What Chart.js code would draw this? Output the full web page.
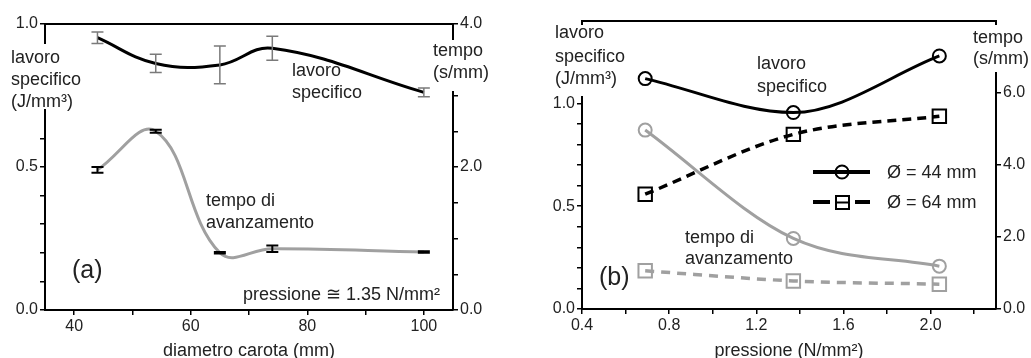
<!DOCTYPE html>
<html><head><meta charset="utf-8">
<script src="https://cdn.jsdelivr.net/npm/chart.js@4.4.1/dist/chart.umd.min.js"></script>
<style>
html,body{margin:0;padding:0;background:#fff;width:1031px;height:358px;overflow:hidden}
#ca{position:absolute;left:0;top:0;width:515px;height:358px}
#cb{position:absolute;left:515px;top:0;width:516px;height:358px}
</style></head><body>
<canvas id="ca" width="515" height="358"></canvas>
<canvas id="cb" width="516" height="358"></canvas>
<script>
// ---------- panel (a) data ----------
const diamA = [44, 54, 65, 74, 100];
const lavoroA = [0.952, 0.862, 0.857, 0.915, 0.761];
const lavoroErrA = [0.02, 0.032, 0.066, 0.042, 0.015];
const tempoA = [1.96, 2.50, 0.80, 0.857, 0.81];
const tempoErrA = [0.04, 0.02, 0.01, 0.045, 0.01];
const xTicksA = [40, 50, 60, 70, 80, 90, 100];
const xLabelsA = [40, 60, 80, 100];
const yTicksA = [0, 0.1, 0.2, 0.3, 0.4, 0.5, 0.6, 1.0];
const yLabelsA = [0, 0.5, 1.0];
const y1TicksA = [0, 0.5, 1, 1.5, 2, 2.5, 3, 4];
const y1LabelsA = [0, 2, 4];

// ---------- panel (b) data ----------
const pressB = [0.69, 1.37, 2.04];
const lavoro44 = [1.12, 0.955, 1.23];
const lavoro64 = [0.558, 0.849, 0.937];
const tempo44 = [4.97, 1.96, 1.19];
const tempo64 = [1.06, 0.78, 0.69];
const xTicksB = [0.4, 0.6, 0.8, 1.0, 1.2, 1.4, 1.6, 1.8, 2.0, 2.2];
const xLabelsB = [0.4, 0.8, 1.2, 1.6, 2.0];
const yTicksB = [0, 0.1, 0.2, 0.3, 0.4, 0.5, 0.6, 0.7, 0.8, 0.9, 1.0];
const yLabelsB = [0, 0.5, 1.0];
const y1TicksB = [0, 2, 4, 6];
const y1LabelsB = [0, 2, 4, 6];
const legendLabelsB = ['Ø = 44 mm', 'Ø = 64 mm'];

const FONT = "'Liberation Sans', Arial, sans-serif";
Chart.defaults.font.family = FONT;
Chart.defaults.color = '#222';

const has = (arr, v) => arr.some(l => Math.abs(l - v) < 1e-6);
const pts = (xs, ys) => xs.map((x, i) => ({x, y: ys[i]}));

function axis(pos, min, max, ticks, labels, size, fmt, extra) {
  const horiz = pos === 'top' || pos === 'bottom';
  return Object.assign({
    type: 'linear', position: pos, min, max,
    afterBuildTicks: s => { s.ticks = ticks.map(v => ({value: v})); },
    afterFit: s => { if (horiz) s.height = size; else s.width = size; },
    ticks: { autoSkip: false, maxRotation: 0, padding: 2, font: {size: 16}, color: '#222',
             callback: v => has(labels, v) ? fmt(v) : '' },
    grid: { drawOnChartArea: false, tickLength: 5, color: '#000', lineWidth: 1.5 },
    border: { display: true, color: '#000', width: 2 }
  }, extra || {});
}
function topAxis(min, max, h) {
  return { type: 'linear', position: 'top', min, max,
    afterFit: s => { s.height = h; },
    ticks: { display: false }, grid: { display: false },
    border: { display: true, color: '#000', width: 2 } };
}
const f1 = v => Number(v).toFixed(1);
const f0 = v => String(v);

const errorBars = { id: 'errorBars', afterDatasetsDraw(chart) {
  const ctx = chart.ctx;
  chart.data.datasets.forEach(ds => {
    if (!ds.errors) return;
    const xs = chart.scales.x, ys = chart.scales[ds.yAxisID];
    ctx.save(); ctx.strokeStyle = ds.errColor; ctx.lineWidth = ds.errWidth;
    ds.data.forEach((p, j) => {
      const e = ds.errors[j];
      const px = xs.getPixelForValue(p.x);
      const ya = ys.getPixelForValue(p.y - e), yb = ys.getPixelForValue(p.y + e);
      ctx.beginPath();
      ctx.moveTo(px, ya); ctx.lineTo(px, yb);
      ctx.moveTo(px - 6, ya); ctx.lineTo(px + 6, ya);
      ctx.moveTo(px - 6, yb); ctx.lineTo(px + 6, yb);
      ctx.stroke();
    });
    ctx.restore();
  });
}};

function overlay(spec) { return { id: 'overlay', afterDraw(chart) {
  const ctx = chart.ctx; ctx.save();
  ctx.fillStyle = '#fff';
  spec.masks.forEach(m => ctx.fillRect(m[0], m[1], m[2], m[3]));
  ctx.fillStyle = '#222'; ctx.textBaseline = 'alphabetic'; ctx.textAlign = 'left';
  spec.texts.forEach(t => { ctx.font = (t.size || 18) + 'px ' + FONT; ctx.fillText(t.text, t.x, t.y); });
  if (spec.legend) spec.legend(ctx, chart);
  ctx.restore();
}}; }

const baseOpts = { responsive: false, animation: false, devicePixelRatio: 1,
  layout: { padding: 0 }, plugins: { legend: { display: false }, tooltip: { enabled: false } } };

// ---------- chart (a) ----------
new Chart(document.getElementById('ca'), {
  type: 'line',
  data: { datasets: [
    { label: 'lavoro specifico', data: pts(diamA, lavoroA), yAxisID: 'y', borderColor: '#000', borderWidth: 3,
      pointRadius: 0, tension: 0.4, fill: false, errors: lavoroErrA, errColor: '#7a7a7a', errWidth: 1.5 },
    { label: 'tempo di avanzamento', data: pts(diamA, tempoA), yAxisID: 'y1', borderColor: '#a0a0a0', borderWidth: 3,
      pointRadius: 0, tension: 0.4, fill: false, errors: tempoErrA, errColor: '#000', errWidth: 2 }
  ]},
  options: Object.assign({}, baseOpts, { scales: {
    x: axis('bottom', 35, 105, xTicksA, xLabelsA, 48, f0, { title: { display: true, text: 'diametro carota (mm)',
         font: { size: 18, lineHeight: 1 }, padding: { top: 0, bottom: -2 }, color: '#222' } }),
    xt: topAxis(35, 105, 24),
    y: axis('left', 0, 1, yTicksA, yLabelsA, 45, f1),
    y1: axis('right', 0, 4, y1TicksA, y1LabelsA, 62, f1)
  }}),
  plugins: [errorBars, overlay({
    masks: [[37, 44, 14, 65], [446, 40, 14, 51]],
    texts: [
      {text: 'lavoro', x: 11, y: 63}, {text: 'specifico', x: 11, y: 85}, {text: '(J/mm³)', x: 11, y: 107},
      {text: 'tempo', x: 433, y: 56}, {text: '(s/mm)', x: 433, y: 78},
      {text: 'lavoro', x: 292, y: 76}, {text: 'specifico', x: 292, y: 98},
      {text: 'tempo di', x: 206, y: 206}, {text: 'avanzamento', x: 206, y: 228},
      {text: '(a)', x: 72, y: 278, size: 25},
      {text: 'pressione ≅ 1.35 N/mm²', x: 243, y: 300}
    ]
  })]
});

// ---------- chart (b) ----------
const OX = 515;
new Chart(document.getElementById('cb'), {
  type: 'line',
  data: { datasets: [
    { label: 'lavoro specifico Ø = 44 mm', data: pts(pressB, lavoro44), yAxisID: 'y', borderColor: '#000', borderWidth: 3,
      pointStyle: 'circle', pointRadius: 6.5, pointBorderWidth: 2, pointBorderColor: '#000', pointBackgroundColor: 'rgba(0,0,0,0)', cubicInterpolationMode: 'monotone' },
    { label: 'lavoro specifico Ø = 64 mm', data: pts(pressB, lavoro64), yAxisID: 'y', borderColor: '#000', borderWidth: 3.5, borderDash: [9, 6],
      pointStyle: 'rect', pointRadius: 9.5, pointBorderWidth: 2, pointBorderColor: '#000', pointBackgroundColor: 'rgba(0,0,0,0)', cubicInterpolationMode: 'monotone' },
    { label: 'tempo Ø = 44 mm', data: pts(pressB, tempo44), yAxisID: 'y1', borderColor: '#a0a0a0', borderWidth: 3,
      pointStyle: 'circle', pointRadius: 6.5, pointBorderWidth: 2, pointBorderColor: '#a0a0a0', pointBackgroundColor: 'rgba(0,0,0,0)', cubicInterpolationMode: 'monotone' },
    { label: 'tempo Ø = 64 mm', data: pts(pressB, tempo64), yAxisID: 'y1', borderColor: '#a0a0a0', borderWidth: 3.5, borderDash: [9, 7],
      pointStyle: 'rect', pointRadius: 9.5, pointBorderWidth: 2, pointBorderColor: '#a0a0a0', pointBackgroundColor: 'rgba(0,0,0,0)', cubicInterpolationMode: 'monotone' }
  ]},
  options: Object.assign({}, baseOpts, { scales: {
    x: axis('bottom', 0.4, 2.3, xTicksB, xLabelsB, 49, f1, { title: { display: true, text: 'pressione (N/mm²)',
         font: { size: 18, lineHeight: 1 }, padding: { top: 0, bottom: -2 }, color: '#222' } }),
    xt: topAxis(0.4, 2.3, 21),
    y: axis('left', 0, 1.4, yTicksB, yLabelsB, 67, f1),
    y1: axis('right', 0, 8, y1TicksB, y1LabelsB, 35, f1)
  }}),
  plugins: [overlay({
    masks: [[576 - OX, 25, 12, 71], [990 - OX, 25, 12, 47]],
    texts: [
      {text: 'lavoro', x: 555 - OX, y: 38}, {text: 'specifico', x: 555 - OX, y: 62}, {text: '(J/mm³)', x: 555 - OX, y: 84},
      {text: 'tempo', x: 973 - OX, y: 43}, {text: '(s/mm)', x: 973 - OX, y: 64},
      {text: 'lavoro', x: 757 - OX, y: 69}, {text: 'specifico', x: 757 - OX, y: 92},
      {text: 'tempo di', x: 685 - OX, y: 243}, {text: 'avanzamento', x: 685 - OX, y: 264},
      {text: '(b)', x: 599 - OX, y: 285, size: 25},
      {text: legendLabelsB[0], x: 887 - OX, y: 178}, {text: legendLabelsB[1], x: 887 - OX, y: 208}
    ],
    legend: (ctx, chart) => {
      const d0 = chart.data.datasets[0], d1 = chart.data.datasets[1];
      ctx.lineCap = 'butt';
      ctx.strokeStyle = d0.borderColor; ctx.lineWidth = 4;
      ctx.beginPath(); ctx.moveTo(813 - OX, 172); ctx.lineTo(870 - OX, 172); ctx.stroke();
      ctx.lineWidth = 2; ctx.beginPath(); ctx.arc(842 - OX, 172, 6.5, 0, Math.PI * 2); ctx.stroke();
      ctx.strokeStyle = d1.borderColor; ctx.lineWidth = 4;
      ctx.beginPath(); ctx.moveTo(813 - OX, 202); ctx.lineTo(830 - OX, 202);
      ctx.moveTo(855 - OX, 202); ctx.lineTo(870 - OX, 202); ctx.stroke();
      ctx.lineWidth = 2; ctx.strokeRect(836 - OX, 196, 13, 13);
      ctx.beginPath(); ctx.moveTo(836 - OX, 202.5); ctx.lineTo(849 - OX, 202.5); ctx.stroke();
    }
  })]
});
</script>
</body></html>
